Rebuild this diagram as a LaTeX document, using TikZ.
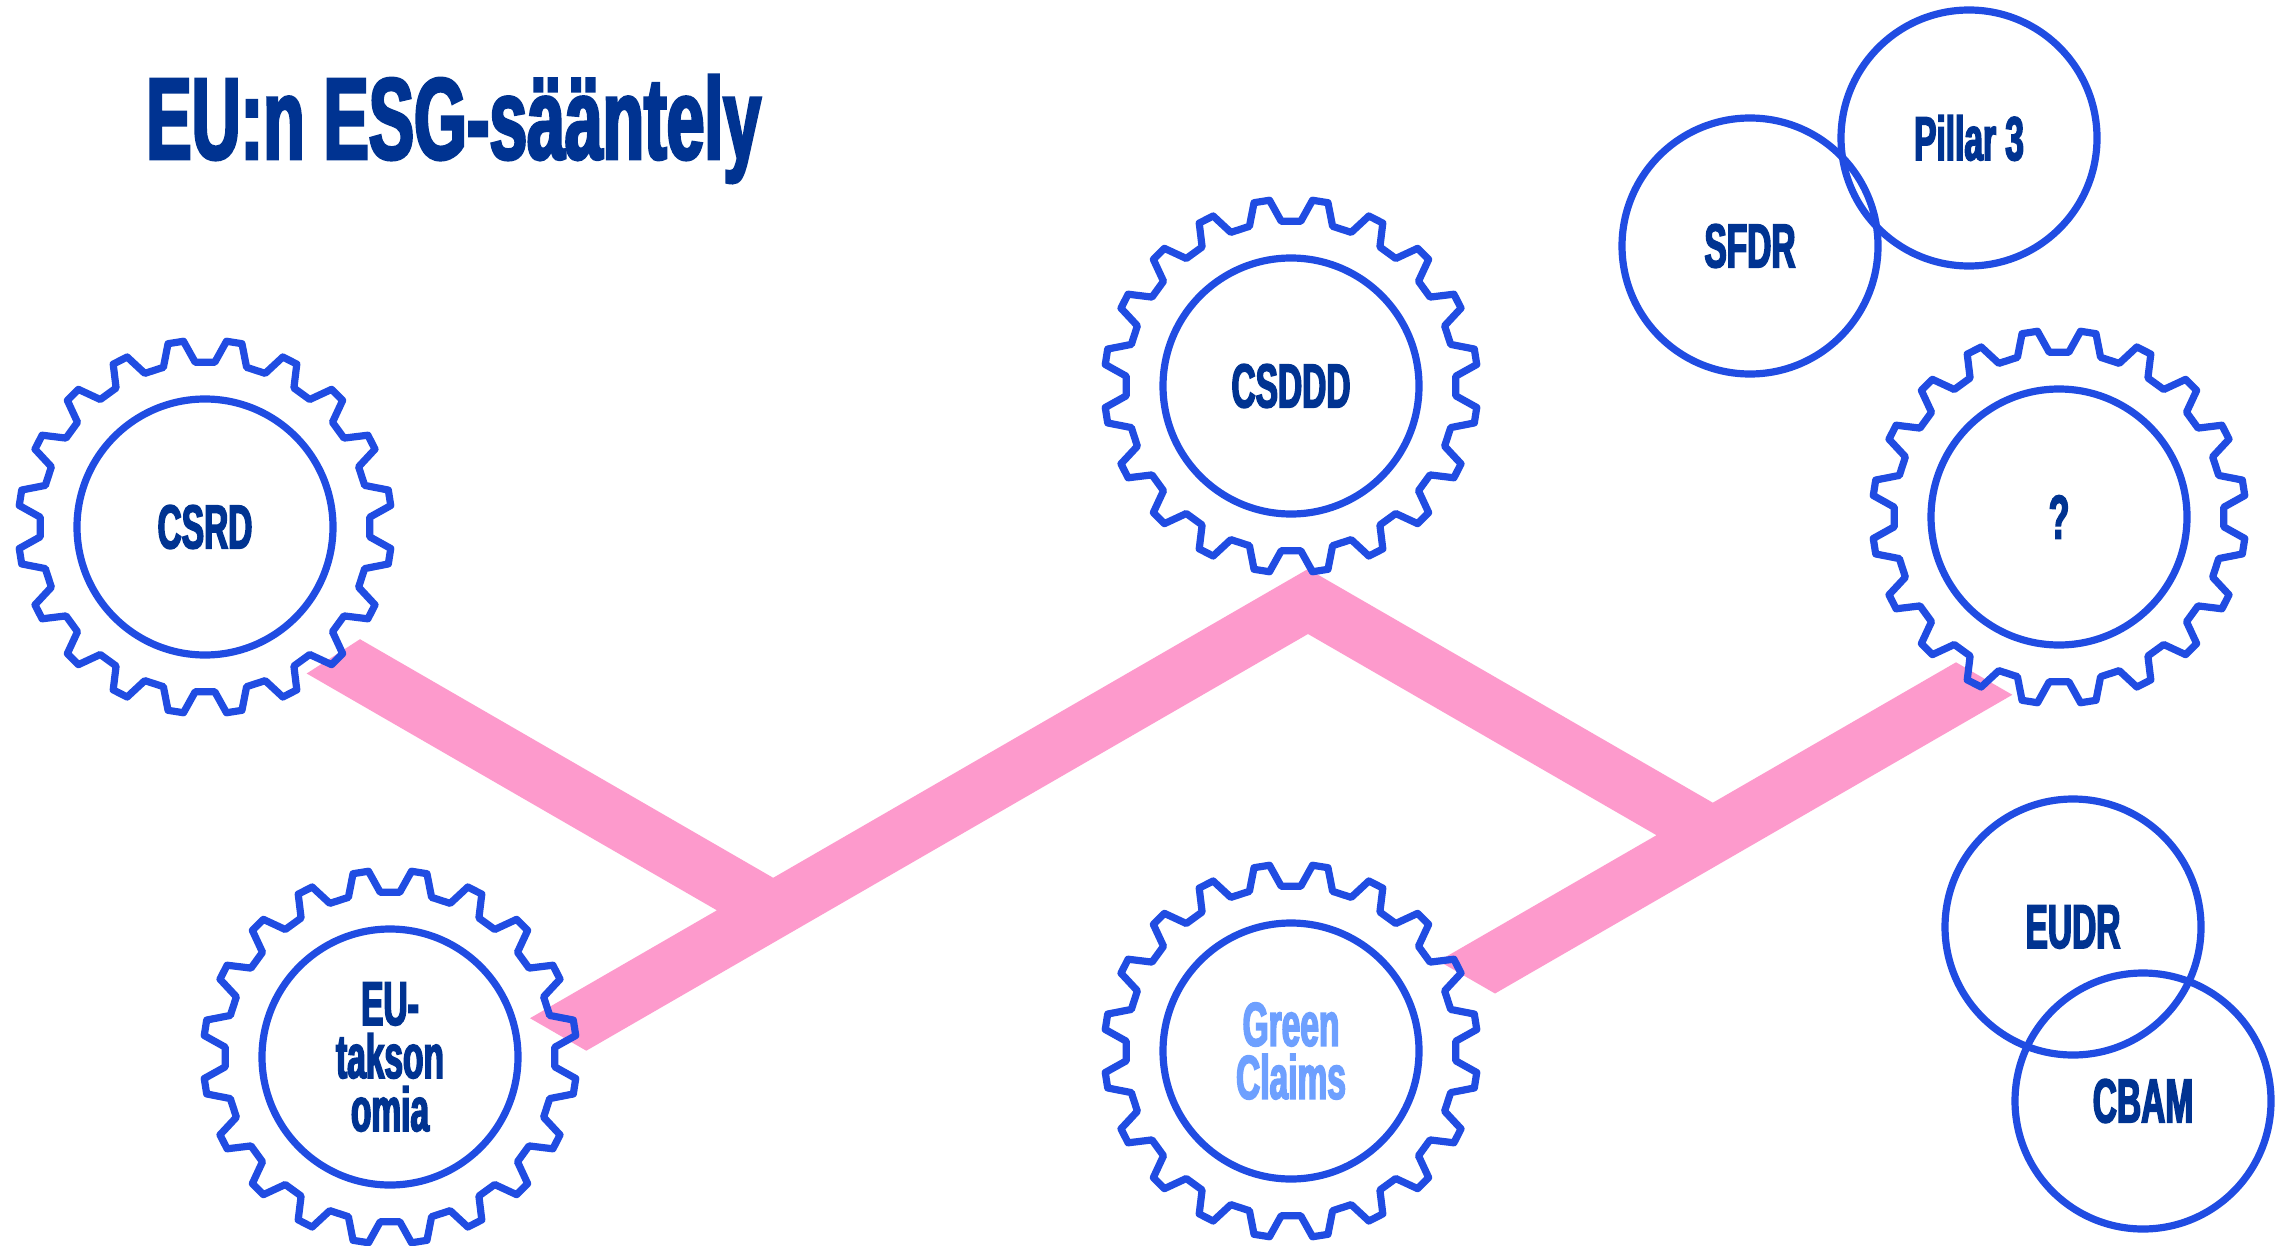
\documentclass[tikz,border=0pt]{standalone}
\usepackage{fontspec}
\newfontfamily\labelfont{Liberation Sans}[FakeStretch=0.54,FakeBold=2.5]
\newfontfamily\titlefont{Liberation Sans}[FakeStretch=0.585,FakeBold=2.5]
\definecolor{gearblue}{RGB}{32,76,226}
\definecolor{navy}{RGB}{0,51,145}
\definecolor{lightblue}{RGB}{110,160,255}
\definecolor{bandpink}{RGB}{253,154,204}
\begin{document}
\begin{tikzpicture}[x=0.5pt,y=-0.5pt,
  ring/.style={circle,draw=gearblue,line width=3.6pt,minimum size=128pt,inner sep=0pt,
    text=navy,font=\labelfont\bfseries\fontsize{31}{26.5}\selectfont,align=center},
  gearline/.style={draw=gearblue,line width=3.6pt,line join=round},
  band/.style={fill=bandpink},
  pics/gear/.style={code={
    \draw[gearline] (3.4:165) \foreach \a in {9,27,...,351}{
      -- (\a-5.6:165) -- (\a-2.4:187) -- (\a+2.4:187) -- (\a+5.6:165)} -- cycle;
  }}]
\useasboundingbox (0,0) rectangle (2279,1246);
\fill[white] (0,0) rectangle (2279,1246);
% pink bands
\fill[band] (306.7,673.5) -- (360,639.2) -- (773.2,877.8) -- (1308,569) -- (1308,634)
  -- (586.3,1050.7) -- (530,1018.2) -- (716.9,910.3) -- cycle;
\fill[band] (1308,569) -- (1712.8,802.7) -- (1956,662.3) -- (2012.3,694.8)
  -- (1495,993.5) -- (1438.6,961) -- (1656.5,835.2) -- (1308,634) -- cycle;
% title
\node[anchor=base west,inner sep=0pt,text=navy,
  font=\titlefont\bfseries\fontsize{58}{60}\selectfont] (title) at (146,159) {EU:n ESG-sääntely};
% rings
\node[ring] (csrd) at (205,527) {CSRD};
\node[ring] (csddd) at (1291,386) {CSDDD};
\node[ring] (q) at (2059,517) {?};
\node[ring] (tax) at (390,1057) {EU-\\takson\\omia};
\node[ring,text=lightblue] (gc) at (1291,1051) {Green\\Claims};
\node[ring] (sfdr) at (1750,246) {SFDR};
\node[ring] (p3) at (1969,138) {Pillar 3};
\node[ring] (eudr) at (2073,927) {EUDR};
\node[ring] (cbam) at (2143,1101) {CBAM};
% gear teeth
\foreach \g in {csrd,csddd,q,tax,gc} \pic at (\g.center) {gear};
\end{tikzpicture}
\end{document}
